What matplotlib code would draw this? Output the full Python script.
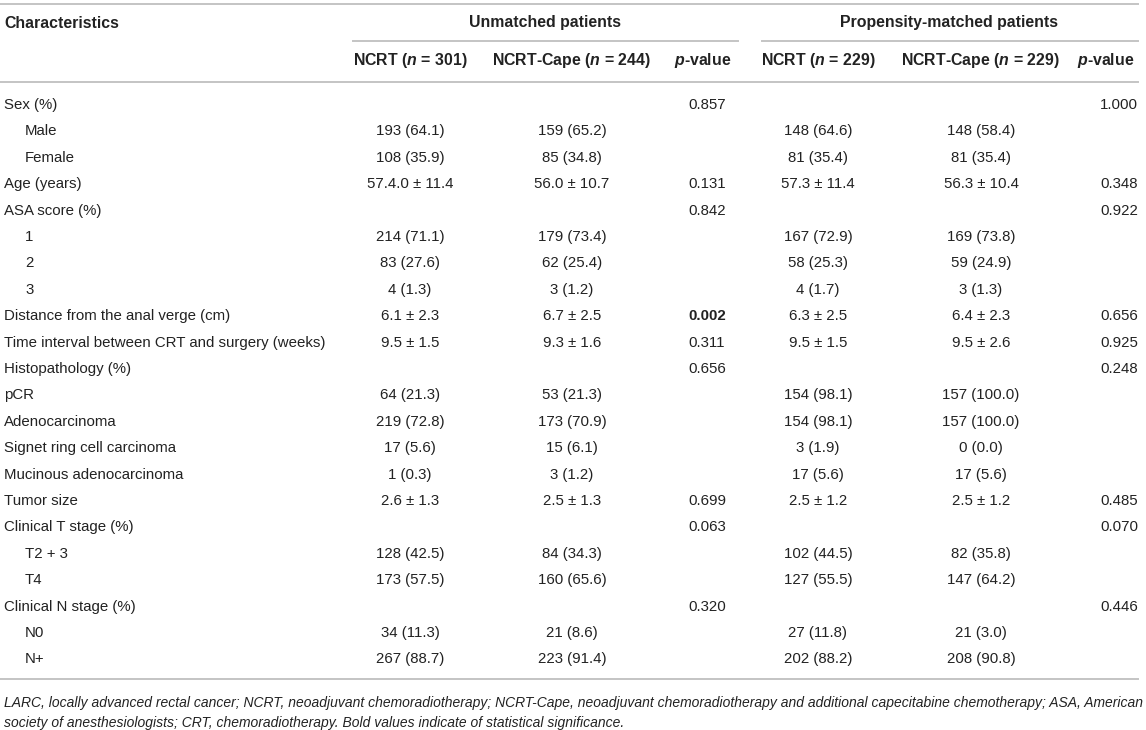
import matplotlib
matplotlib.use("Agg")
import matplotlib.pyplot as plt

plt.rcParams["font.family"] = ["Liberation Sans", "DejaVu Sans"]
plt.rcParams["mathtext.fontset"] = "custom"
plt.rcParams["mathtext.rm"] = "Liberation Sans"
plt.rcParams["mathtext.it"] = "Liberation Sans:italic"
plt.rcParams["mathtext.bf"] = "Liberation Sans:bold"
plt.rcParams["mathtext.bfit"] = "Liberation Sans:italic:bold"

# table content
labels = [
    "Sex (%)", "Male", "Female", "Age (years)", "ASA score (%)", "1", "2", "3",
    "Distance from the anal verge (cm)", "Time interval between CRT and surgery (weeks)",
    "Histopathology (%)", "pCR", "Adenocarcinoma", "Signet ring cell carcinoma",
    "Mucinous adenocarcinoma", "Tumor size", "Clinical T stage (%)", "T2 + 3", "T4",
    "Clinical N stage (%)", "N0", "N+",
]
indented = [0, 1, 1, 0, 0, 1, 1, 1, 0, 0, 0, 0, 0, 0, 0, 0, 0, 1, 1, 0, 1, 1]

ncrt_unmatched = [
    "", "193 (64.1)", "108 (35.9)", "57.4.0 \u00b1 11.4", "", "214 (71.1)", "83 (27.6)", "4 (1.3)",
    "6.1 \u00b1 2.3", "9.5 \u00b1 1.5", "", "64 (21.3)", "219 (72.8)", "17 (5.6)", "1 (0.3)",
    "2.6 \u00b1 1.3", "", "128 (42.5)", "173 (57.5)", "", "34 (11.3)", "267 (88.7)",
]
cape_unmatched = [
    "", "159 (65.2)", "85 (34.8)", "56.0 \u00b1 10.7", "", "179 (73.4)", "62 (25.4)", "3 (1.2)",
    "6.7 \u00b1 2.5", "9.3 \u00b1 1.6", "", "53 (21.3)", "173 (70.9)", "15 (6.1)", "3 (1.2)",
    "2.5 \u00b1 1.3", "", "84 (34.3)", "160 (65.6)", "", "21 (8.6)", "223 (91.4)",
]
p_unmatched = [
    "0.857", "", "", "0.131", "0.842", "", "", "", "0.002", "0.311", "0.656", "", "", "", "",
    "0.699", "0.063", "", "", "0.320", "", "",
]
ncrt_matched = [
    "", "148 (64.6)", "81 (35.4)", "57.3 \u00b1 11.4", "", "167 (72.9)", "58 (25.3)", "4 (1.7)",
    "6.3 \u00b1 2.5", "9.5 \u00b1 1.5", "", "154 (98.1)", "154 (98.1)", "3 (1.9)", "17 (5.6)",
    "2.5 \u00b1 1.2", "", "102 (44.5)", "127 (55.5)", "", "27 (11.8)", "202 (88.2)",
]
cape_matched = [
    "", "148 (58.4)", "81 (35.4)", "56.3 \u00b1 10.4", "", "169 (73.8)", "59 (24.9)", "3 (1.3)",
    "6.4 \u00b1 2.3", "9.5 \u00b1 2.6", "", "157 (100.0)", "157 (100.0)", "0 (0.0)", "17 (5.6)",
    "2.5 \u00b1 1.2", "", "82 (35.8)", "147 (64.2)", "", "21 (3.0)", "208 (90.8)",
]
p_matched = [
    "1.000", "", "", "0.348", "0.922", "", "", "", "0.656", "0.925", "0.248", "", "", "", "",
    "0.485", "0.070", "", "", "0.446", "", "",
]
significant = ["0.002"]

group_titles = ["Unmatched patients", "Propensity-matched patients"]
col_titles = [
    r"NCRT ($\mathbfit{n}$ = 301)", r"NCRT-Cape ($\mathbfit{n}$ = 244)", r"$\mathbfit{p}$-value",
    r"NCRT ($\mathbfit{n}$ = 229)", r"NCRT-Cape ($\mathbfit{n}$ = 229)", r"$\mathbfit{p}$-value",
]
footnote = [
    "LARC, locally advanced rectal cancer; NCRT, neoadjuvant chemoradiotherapy; NCRT-Cape, "
    "neoadjuvant chemoradiotherapy and additional capecitabine chemotherapy; ASA, American",
    "society of anesthesiologists; CRT, chemoradiotherapy. Bold values indicate of statistical significance.",
]

TXT = "#222222"
LINE = "#c4c4c4"
FS = 10.8
FS_HEAD = 11.4

fig = plt.figure(figsize=(11.46, 7.30), dpi=100)
ax = fig.add_axes([0, 0, 1, 1])
ax.set_xlim(0, 1146)
ax.set_ylim(730, 0)
ax.axis("off")

# rules
ax.plot([0, 1138], [4, 4], color=LINE, lw=1.4)
ax.plot([353, 738], [41, 41], color=LINE, lw=1.4)
ax.plot([762, 1138], [41, 41], color=LINE, lw=1.4)
ax.plot([0, 1138], [82, 82], color=LINE, lw=1.4)
ax.plot([0, 1138], [679, 679], color=LINE, lw=1.4)

# header
ax.text(4, 23, "Characteristics", fontsize=FS_HEAD, fontweight="bold", color=TXT, va="center")
for title, xc in zip(group_titles, [545, 949]):
    ax.text(xc, 23, title, fontsize=FS_HEAD, fontweight="bold", color=TXT, va="center", ha="center")
header_x = [410, 571, 703, 818, 980, 1106]
for title, xc in zip(col_titles, header_x):
    ax.text(xc, 61, title, fontsize=FS_HEAD, fontweight="bold", color=TXT, va="center", ha="center")

# body
y0, dy = 105, 26.4
value_x = [410, 572, 707, 818, 981, 1119]
columns = [ncrt_unmatched, cape_unmatched, p_unmatched, ncrt_matched, cape_matched, p_matched]
for i, lab in enumerate(labels):
    y = y0 + i * dy
    ax.text(4 + 21 * indented[i], y, lab, fontsize=FS, color=TXT, va="center")
    for j, (col, xc) in enumerate(zip(columns, value_x)):
        val = col[i]
        if not val:
            continue
        bold = j == 2 and val in significant
        ax.text(xc, y, val, fontsize=FS, color=TXT, va="center", ha="center",
                fontweight="bold" if bold else "normal")

# footnote
for k, line in enumerate(footnote):
    ax.text(4, 703 + k * 20, line, fontsize=10, style="italic", color=TXT, va="center")

fig.savefig("out.png", dpi=100)
plt.close(fig)
